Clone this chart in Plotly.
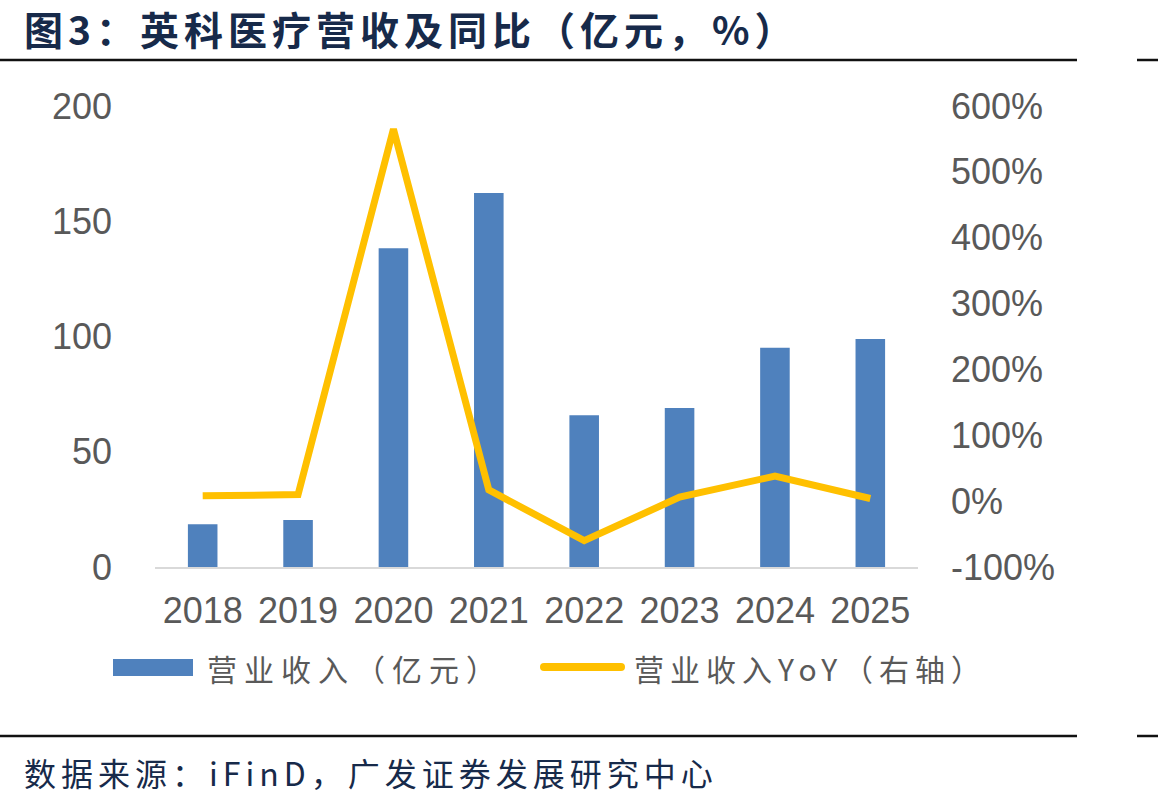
import plotly.graph_objects as go

# ---------------- data ----------------
years = ["2018", "2019", "2020", "2021", "2022", "2023", "2024", "2025"]
revenue = [18.5, 20.4, 138.3, 162.3, 65.8, 69.0, 95.1, 98.9]      # 营业收入（亿元）
yoy = [8, 10, 565, 17, -60, 6, 38, 4]                               # 营业收入YoY（%）
left_ticks = [0, 50, 100, 150, 200]
right_ticks = [-100, 0, 100, 200, 300, 400, 500, 600]
right_tick_labels = ["-100%", "0%", "100%", "200%", "300%", "400%", "500%", "600%"]

title_text = "图3：英科医疗营收及同比（亿元，%）"
source_text = "数据来源：iFinD，广发证券发展研究中心"
bar_name = "营业收入（亿元）"
line_name = "营业收入YoY（右轴）"

# ---------------- layout helpers ----------------
W, H = 1158, 805
L, R, T, B = 155, 240, 106, 238
PW, PH = W - L - R, H - T - B


def px(x):
    return (x - L) / PW


def py(y):
    return (H - B - y) / PH


BLUE = "#4f81bd"
GOLD = "#ffc000"
GRAY = "#595959"
NAVY = "#172a4a"
CJK = "Noto Sans CJK SC"

fig = go.Figure()
fig.add_trace(go.Bar(x=years, y=revenue, name=bar_name, marker_color=BLUE,
                     marker_line_width=0, yaxis="y", showlegend=False))
fig.add_trace(go.Scatter(x=years, y=yoy, name=line_name, mode="lines",
                         line=dict(color=GOLD, width=7), yaxis="y2", showlegend=False))

fig.update_layout(
    width=W, height=H,
    margin=dict(l=L, r=R, t=T, b=B, pad=0),
    plot_bgcolor="white", paper_bgcolor="white",
    bargap=0.69,
    xaxis=dict(showgrid=False, showline=True, linecolor="#d9d9d9", linewidth=2,
               ticks="", tickfont=dict(family="Liberation Sans, Arial", size=36, color=GRAY),
               ticklabelstandoff=11, zeroline=False),
    yaxis=dict(range=[0, 200], tickvals=left_ticks, showgrid=False, zeroline=False,
               showline=False, ticks="",
               tickfont=dict(family="Liberation Sans, Arial", size=36, color=GRAY),
               ticklabelstandoff=42),
    yaxis2=dict(range=[-100, 600], tickvals=right_ticks, ticktext=right_tick_labels,
                overlaying="y", side="right", showgrid=False, zeroline=False, showline=False,
                ticks="", tickfont=dict(family="Liberation Sans, Arial", size=36, color=GRAY),
                ticklabelstandoff=32),
    showlegend=False,
)

shapes = []
# horizontal rules (top & bottom)
for yy in (60, 736):
    shapes.append(dict(type="line", xref="paper", yref="paper", x0=px(0), x1=px(1077),
                       y0=py(yy), y1=py(yy), line=dict(color="#111111", width=2.5)))
    shapes.append(dict(type="line", xref="paper", yref="paper", x0=px(1137), x1=px(1158),
                       y0=py(yy), y1=py(yy), line=dict(color="#111111", width=2.5)))
# legend swatches
shapes.append(dict(type="rect", xref="paper", yref="paper", x0=px(113), x1=px(193),
                   y0=py(676), y1=py(659), fillcolor=BLUE, line=dict(width=0)))
shapes.append(dict(type="line", xref="paper", yref="paper", x0=px(544), x1=px(621),
                   y0=py(667), y1=py(667), line=dict(color=GOLD, width=8)))
for cx in (544, 621):
    shapes.append(dict(type="circle", xref="paper", yref="paper", x0=px(cx - 4), x1=px(cx + 4),
                       y0=py(671), y1=py(663), fillcolor=GOLD, line=dict(width=0)))
fig.update_layout(shapes=shapes)

annotations = [
    dict(text="<b><span style='letter-spacing:5px'>" + title_text + "</span></b>",
         xref="paper", yref="paper", x=px(22), y=py(28), xanchor="left", yanchor="middle",
         showarrow=False, font=dict(family=CJK, size=39, color=NAVY)),
    dict(text="<span style='letter-spacing:7px'>" + bar_name + "</span>",
         xref="paper", yref="paper", x=px(205), y=py(668), xanchor="left", yanchor="middle",
         showarrow=False, font=dict(family=CJK, size=30, color=GRAY)),
    dict(text="<span style='letter-spacing:6px'>" + line_name + "</span>",
         xref="paper", yref="paper", x=px(632), y=py(668), xanchor="left", yanchor="middle",
         showarrow=False, font=dict(family=CJK, size=30, color=GRAY)),
    dict(text="<span style='letter-spacing:5px'>" + source_text + "</span>",
         xref="paper", yref="paper", x=px(22), y=py(772), xanchor="left", yanchor="middle",
         showarrow=False, font=dict(family=CJK, size=32, color=NAVY)),
]
fig.update_layout(annotations=annotations)

fig.write_html("out.html")
